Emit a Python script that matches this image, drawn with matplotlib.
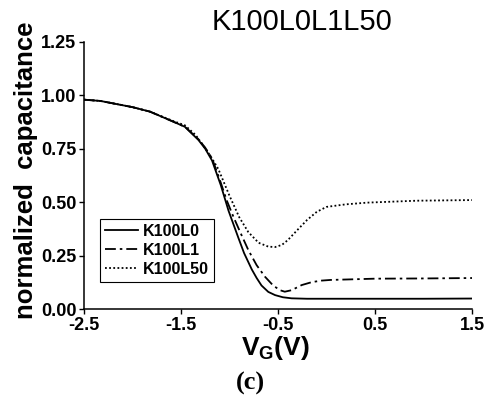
import matplotlib
matplotlib.use('Agg')
import matplotlib.pyplot as plt

plt.rcParams['font.family'] = ['Liberation Sans', 'DejaVu Sans']
plt.rcParams['mathtext.fontset'] = 'custom'
plt.rcParams['mathtext.rm'] = 'Liberation Sans'
plt.rcParams['mathtext.bf'] = 'Liberation Sans:bold'

# valores (V_G em V, capacitância normalizada)
x_l0 = [-2.5, -2.33, -2.0, -1.82, -1.58, -1.46, -1.32, -1.25, -1.18, -1.09, -1.01,
        -0.91, -0.85, -0.77, -0.72, -0.67, -0.6, -0.53, -0.45, -0.36, -0.2, 0.0,
        0.5, 1.0, 1.5]
y_l0 = [0.980, 0.974, 0.945, 0.924, 0.877, 0.853, 0.791, 0.750, 0.695, 0.580, 0.460,
        0.335, 0.262, 0.185, 0.145, 0.110, 0.080, 0.065, 0.055, 0.050, 0.048, 0.048,
        0.048, 0.048, 0.049]

x_l1 = [-2.5, -2.33, -2.0, -1.82, -1.58, -1.46, -1.32, -1.25, -1.18, -1.1, -1.03,
        -0.96, -0.88, -0.806, -0.72, -0.634, -0.55, -0.48, -0.43, -0.36, -0.256,
        -0.15, -0.05, 0.04, 0.5, 1.0, 1.5]
y_l1 = [0.980, 0.974, 0.945, 0.924, 0.877, 0.853, 0.795, 0.755, 0.705, 0.605, 0.510,
        0.432, 0.350, 0.276, 0.205, 0.151, 0.110, 0.088, 0.081, 0.088, 0.112,
        0.126, 0.133, 0.136, 0.142, 0.143, 0.145]

x_l50 = [-2.5, -2.33, -2.0, -1.82, -1.58, -1.46, -1.35, -1.27, -1.19, -1.115, -1.0,
         -0.9, -0.806, -0.7, -0.6, -0.53, -0.46, -0.4, -0.3, -0.2, -0.1, 0.0, 0.2,
         0.42, 0.93, 1.5]
y_l50 = [0.980, 0.974, 0.945, 0.924, 0.880, 0.860, 0.815, 0.765, 0.712, 0.655, 0.530,
         0.430, 0.360, 0.310, 0.292, 0.290, 0.300, 0.322, 0.370, 0.417, 0.455, 0.478,
         0.490, 0.498, 0.507, 0.510]

labels = ['K100L0', 'K100L1', 'K100L50']
x_ticks = [-2.5, -1.5, -0.5, 0.5, 1.5]
y_ticks = [0.0, 0.25, 0.5, 0.75, 1.0, 1.25]

fig = plt.figure(figsize=(4.87, 4.0), dpi=100)
ax = fig.add_axes([0.1725, 0.2275, 0.7967, 0.6675])

ax.plot(x_l0, y_l0, color='black', lw=1.3, ls='-', label=labels[0])
ax.plot(x_l1, y_l1, color='black', lw=1.3, ls=(0, (6, 2.2, 1.4, 2.2)), label=labels[1])
ax.plot(x_l50, y_l50, color='black', lw=1.3, ls=(0, (1, 1.3)), label=labels[2])

ax.set_xlim(-2.5, 1.5)
ax.set_ylim(0, 1.25)
ax.set_xticks(x_ticks)
ax.set_xticklabels([f'{v:.1f}' for v in x_ticks])
ax.set_yticks(y_ticks)
ax.set_yticklabels([f'{v:.2f}' for v in y_ticks])
ax.tick_params(direction='out', length=3.5, width=1, labelsize=13, pad=2)
for lab in ax.get_xticklabels() + ax.get_yticklabels():
    lab.set_fontweight('bold')
ax.spines['top'].set_visible(False)
ax.spines['right'].set_visible(False)
for s in ['left', 'bottom']:
    ax.spines[s].set_linewidth(1.1)

leg = ax.legend(loc='upper left', bbox_to_anchor=(0.041, 0.337), borderaxespad=0,
                prop={'weight': 'bold', 'size': 11.5}, handlelength=2.1,
                handletextpad=0.3, labelspacing=0.25, borderpad=0.3,
                fancybox=False, framealpha=1)
leg.get_frame().set_edgecolor('black')
leg.get_frame().set_linewidth(0.8)

fig.text(0.62, 0.945, 'K100L0L1L50', ha='center', va='center', fontsize=21)
fig.text(0.053, 0.574, 'normalized  capacitance', rotation=90, ha='center',
         va='center', fontsize=18.5, fontweight='bold')
fig.text(0.565, 0.13, r'$\mathbf{V}_{\mathbf{G}}\mathbf{(V)}$', ha='center',
         va='center', fontsize=19)
fig.text(0.515, 0.042, '(c)', ha='center', va='center', fontsize=19,
         family='Liberation Serif', fontweight='bold')

fig.savefig('out.png', dpi=100)
